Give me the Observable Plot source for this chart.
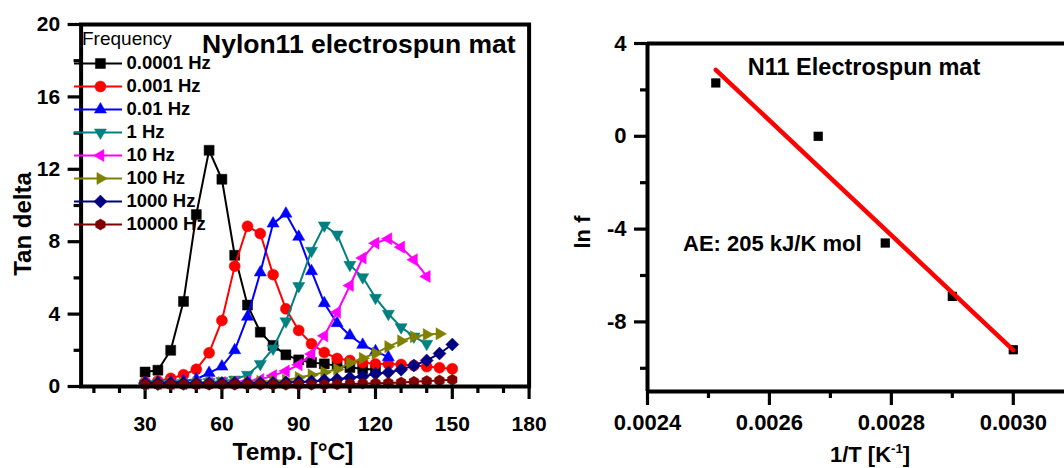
<!DOCTYPE html>
<html><head><meta charset="utf-8">
<script src="https://cdn.jsdelivr.net/npm/d3@7"></script>
<script src="https://cdn.jsdelivr.net/npm/@observablehq/plot@0.6"></script>
<style>
html,body{margin:0;padding:0;background:#fff;}
#wrap{position:relative;width:1064px;height:468px;overflow:hidden;font-family:"Liberation Sans",Arial,sans-serif;}
.pane{position:absolute;top:0;}
.lbl{position:absolute;white-space:nowrap;line-height:1;font-weight:bold;color:#000;}
sup{font-size:0.6em;vertical-align:0.7em;line-height:0;}
</style></head><body><div id="wrap"></div>
<script>
// ---------- data (left panel) ----------
const temps = [30,35,40,45,50,55,60,65,70,75,80,85,90,95,100,105,110,115,120,125,130,135,140,145,150];
const freqLabels = ["0.0001 Hz","0.001 Hz","0.01 Hz","1 Hz","10 Hz","100 Hz","1000 Hz","10000 Hz"];
const seriesColors = ["#000000","#FF0000","#0000FF","#008080","#FF00FF","#808000","#000080","#800000"];
const tan0p0001Hz = [0.8,0.9,2.0,4.7,9.5,13.05,11.45,7.25,4.5,3.0,2.27,1.75,1.47,1.32,1.25,1.15,1.05,0.98,0.92];
const tan0p001Hz = [0.25,0.3,0.45,0.65,0.95,1.86,3.65,6.65,8.85,8.45,6.18,4.29,3.1,2.36,1.88,1.55,1.44,1.32,1.25,1.24,1.22,1.16,1.1,1.04,0.98];
const tan0p01Hz = [0.2,0.22,0.25,0.3,0.4,0.75,1.1,2.0,3.85,6.3,9.0,9.55,8.27,6.37,4.6,3.5,2.82,2.3,1.95,1.62];
const tan1Hz = [0.15,0.15,0.18,0.2,0.22,0.25,0.3,0.38,0.65,1.25,2.1,3.6,5.55,7.5,8.9,8.4,6.72,6.04,4.9,4.02,3.28,2.76,2.36];
const tan10Hz = [0.15,0.15,0.15,0.15,0.18,0.2,0.22,0.25,0.3,0.38,0.6,0.85,1.2,1.8,2.8,4.1,5.58,7.1,7.92,8.16,7.7,7.0,6.08];
const tan100Hz = [0.2,0.2,0.2,0.2,0.2,0.22,0.22,0.25,0.25,0.28,0.3,0.35,0.5,0.64,0.78,0.95,1.3,1.56,1.83,2.2,2.52,2.75,2.87,2.91];
const tan1000Hz = [0.2,0.2,0.2,0.2,0.2,0.2,0.2,0.2,0.2,0.2,0.2,0.22,0.25,0.28,0.35,0.4,0.48,0.55,0.7,0.78,0.93,1.16,1.44,1.82,2.32];
const tan10000Hz = [0.1,0.1,0.1,0.1,0.1,0.1,0.1,0.1,0.1,0.1,0.1,0.1,0.1,0.1,0.1,0.12,0.14,0.16,0.18,0.2,0.22,0.26,0.3,0.33,0.37];
const seriesValues = [tan0p0001Hz,tan0p001Hz,tan0p01Hz,tan1Hz,tan10Hz,tan100Hz,tan1000Hz,tan10000Hz];

const xTicksLeft = [30,60,90,120,150,180];
const xMinorLeft = [10,20,40,50,70,80,100,110,130,140,160,170];
const yTicksLeft = [0,4,8,12,16,20];
const yMinorLeft = [2,6,10,14,18];
const xDomainLeft = [5,180];
const yDomainLeft = [0,20];

// ---------- data (right panel) ----------
const invT = [0.002512,0.00268,0.00279,0.0029,0.0030];
const lnF = [2.3,0,-4.6,-6.9,-9.2];
const xTicksRight = [0.0024,0.0026,0.0028,0.0030];
const xMinorRight = [0.0025,0.0027,0.0029];
const yTicksRight = [4,0,-4,-8];
const yMinorRight = [2,-2,-6,-10];
const xDomainRight = [0.0024,0.003084];
const yDomainRight = [-11,4];

// ---------- symbols ----------
const s3 = Math.sqrt(3)/2;
function poly(pts){return {draw(ctx,size){const r=Math.sqrt(size/Math.PI);ctx.moveTo(pts[0][0]*r,pts[0][1]*r);for(let i=1;i<pts.length;i++)ctx.lineTo(pts[i][0]*r,pts[i][1]*r);ctx.closePath();}};}
const symSquare = poly([[-1,-1],[1,-1],[1,1],[-1,1]]);
const symUp = poly([[0,-1.4],[1.4*s3,0.7],[-1.4*s3,0.7]]);
const symDown = poly([[0,1.4],[1.4*s3,-0.7],[-1.4*s3,-0.7]]);
const symLeft = poly([[-1.4,0],[0.7,-1.4*s3],[0.7,1.4*s3]]);
const symRight = poly([[1.4,0],[-0.7,-1.4*s3],[-0.7,1.4*s3]]);
const symDiamond = poly([[0,-1.3],[1.3,0],[0,1.3],[-1.3,0]]);
const hx=[];for(let k=0;k<6;k++){const a=Math.PI/6+k*Math.PI/3;hx.push([1.1*Math.cos(a),1.1*Math.sin(a)]);}
const symHex = poly(hx);
const seriesSymbols = [symSquare,"circle",symUp,symDown,symLeft,symRight,symDiamond,symHex];
const seriesR = [5,5.5,5,5,5,5,5,5];

const wrap = document.getElementById("wrap");
const baseStyle = {fontFamily:'"Liberation Sans",Arial,sans-serif',fontWeight:"bold",color:"#000",background:"transparent",overflow:"visible"};

// ---------- left panel ----------
const marksLeft = [
  Plot.axisX(xTicksLeft,{tickSize:13,tickPadding:17,fontSize:21,strokeWidth:3.2,label:null,tickFormat:d=>String(d)}),
  Plot.axisX(xMinorLeft,{tickSize:7,strokeWidth:3.2,label:null,tickFormat:()=>""}),
  Plot.axisY(yTicksLeft,{tickSize:13,tickPadding:8,fontSize:21,strokeWidth:3.2,label:null,tickFormat:d=>String(d)}),
  Plot.axisY(yMinorLeft,{tickSize:7,strokeWidth:3.2,label:null,tickFormat:()=>""})
];
seriesValues.forEach((vals,i)=>{
  const data = vals.map((v,j)=>({t:temps[j],v}));
  marksLeft.push(Plot.line(data,{x:"t",y:"v",stroke:seriesColors[i],strokeWidth:2}));
  marksLeft.push(Plot.dot(data,{x:"t",y:"v",fill:seriesColors[i],stroke:seriesColors[i],strokeWidth:0.5,symbol:seriesSymbols[i],r:seriesR[i]}));
});
marksLeft.push(Plot.frame({strokeWidth:4}));
const left = Plot.plot({
  width:560,height:468,marginLeft:80.6,marginRight:31.4,marginTop:24,marginBottom:82,
  x:{domain:xDomainLeft},y:{domain:yDomainLeft},
  style:baseStyle,marks:marksLeft
});
left.classList.add("pane");left.style.left="0px";
wrap.appendChild(left);

// legend (own small plot)
const legendRows = freqLabels.map((label,i)=>({label,i}));
const legendMarks = [
  Plot.ruleY(legendRows,{y:"label",x1:()=>0,x2:()=>1,stroke:d=>seriesColors[d.i],strokeWidth:2.2})
];
legendRows.forEach(row=>{
  legendMarks.push(Plot.dot([row],{x:()=>0.54,y:"label",fill:seriesColors[row.i],stroke:seriesColors[row.i],strokeWidth:0.5,symbol:seriesSymbols[row.i],r:seriesR[row.i]}));
});
legendMarks.push(Plot.text(legendRows,{x:()=>1,y:"label",text:"label",textAnchor:"start",dx:4,fontSize:18.5,fill:"#000"}));
const legend = Plot.plot({
  width:180,height:188,marginLeft:0,marginRight:132,marginTop:12,marginBottom:12,
  x:{domain:[0,1],axis:null},y:{type:"point",domain:freqLabels,padding:0,axis:null},
  color:{type:"identity"},
  style:baseStyle,marks:legendMarks
});
legend.classList.add("pane");legend.style.left="74px";legend.style.top="49px";
wrap.appendChild(legend);

// ---------- right panel ----------
const points = invT.map((x,i)=>({x,y:lnF[i]}));
const right = Plot.plot({
  width:504,height:468,marginLeft:87,marginRight:0,marginTop:43,marginBottom:77,
  x:{domain:xDomainRight},y:{domain:yDomainRight},
  style:baseStyle,
  marks:[
    Plot.axisX(xTicksRight,{tickSize:14,tickPadding:9,fontSize:22,strokeWidth:3.2,label:null,tickFormat:d3.format(".4f")}),
    Plot.axisX(xMinorRight,{tickSize:7,strokeWidth:3.2,label:null,tickFormat:()=>""}),
    Plot.axisY(yTicksRight,{tickSize:13,tickPadding:8,fontSize:22,strokeWidth:3.2,label:null,tickFormat:d=>String(d)}),
    Plot.axisY(yMinorRight,{tickSize:7,strokeWidth:3.2,label:null,tickFormat:()=>""}),
    Plot.ruleX([xDomainRight[0]],{strokeWidth:4}),
    Plot.ruleY(yDomainRight,{strokeWidth:4}),
    Plot.dot(points,{x:"x",y:"y",symbol:"square",fill:"#000",r:5.2}),
    Plot.linearRegressionY(points,{x:"x",y:"y",stroke:"#FF0000",strokeWidth:4.5,ci:0})
  ]
});
right.classList.add("pane");right.style.left="560px";
wrap.appendChild(right);

// ---------- text labels ----------
function label(html,x,y,size,opts={}){
  const d=document.createElement("div");d.className="lbl";d.innerHTML=html;
  d.style.left=x+"px";d.style.top=y+"px";d.style.fontSize=size+"px";
  if(opts.weight)d.style.fontWeight=opts.weight;
  let tr=opts.center?"translate(-50%,-50%)":"translate(0,-50%)";
  if(opts.rotate)tr+=" rotate(-90deg)";
  d.style.transform=tr;
  wrap.appendChild(d);return d;
}
label("Nylon11 electrospun mat",202,43.5,26.5);
label("Frequency",82,38,19,{weight:"normal"});
label("Tan delta",23,224,24,{center:true,rotate:true});
label("Temp. [°C]",293,452,24.5,{center:true});
label("N11 Electrospun mat",864,67.5,23.5,{center:true});
label("AE: 205 kJ/K mol",683,243.7,22);
label("ln f",583,232,22,{center:true,rotate:true});
label("1/T [K<sup>-1</sup>]",870,455,22,{center:true});
</script></body></html>
